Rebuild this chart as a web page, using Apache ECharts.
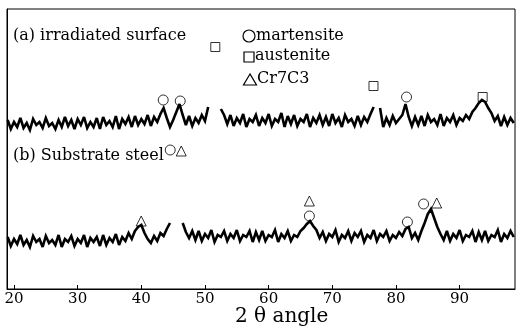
<!DOCTYPE html>
<html>
<head>
<meta charset="utf-8">
<script src="https://cdn.jsdelivr.net/npm/echarts@6/dist/echarts.min.js"></script>
<style>
  html, body { margin: 0; padding: 0; background: #fff; }
  #chart { width: 516px; height: 335px; }
</style>
</head>
<body>
<div id="chart"></div>
<script>
// 2θ sampling: 19.0 .. 98.5 deg, 0.5 deg step
const angleStart = 19;
const angleStep = 0.5;

// (a) irradiated surface, intensity (arbitrary units), null = peak off-scale
const irradiated = [
  169, 160, 167, 162, 171, 161, 166, 159, 170, 164,
  167, 161, 171, 163, 166, 160, 169, 162, 172, 163,
  169, 160, 170, 164, 172, 161, 167, 162, 171, 160,
  172, 164, 168, 162, 173, 160, 170, 165, 172, 162,
  173, 164, 170, 165, 174, 163, 172, 167, 175, 181,
  171, 162, 169, 177, 185, 174, 164, 173, 163, 171,
  166, 174, 168, 182, null, null, null, 180, 174, 165,
  174, 163, 171, 166, 175, 162, 170, 167, 174, 163,
  171, 166, 175, 163, 170, 167, 176, 162, 173, 165,
  174, 163, 170, 167, 175, 162, 171, 166, 174, 164,
  172, 163, 175, 166, 171, 162, 174, 167, 170, 163,
  173, 164, 172, 167, 175, 182, null, 181, 162, 171,
  164, 173, 166, 170, 174, 185, 172, 163, 172, 164,
  173, 163, 174, 167, 170, 164, 175, 163, 171, 167,
  174, 164, 171, 168, 174, 170, 177, 181, 186, 189,
  187, 181, 176, 168, 173, 163, 172, 164, 171, 166
];

// (b) substrate steel
const substrate = [
  52, 43, 50, 45, 54, 44, 49, 42, 53, 47,
  50, 42, 53, 46, 49, 44, 54, 42, 50, 47,
  53, 43, 50, 46, 54, 42, 51, 47, 52, 43,
  54, 44, 51, 47, 55, 44, 52, 48, 56, 50,
  58, 62, 64, 56, 50, 46, 53, 48, 56, 53,
  60, 66, null, null, null, 66, 57, 51, 58, 49,
  58, 48, 55, 51, 59, 47, 54, 52, 58, 48,
  55, 51, 59, 48, 54, 52, 58, 47, 57, 49,
  58, 48, 54, 52, 59, 47, 55, 51, 58, 48,
  54, 52, 58, 61, 65, 68, 63, 59, 51, 57,
  48, 55, 52, 59, 47, 54, 51, 58, 48, 56,
  52, 58, 47, 54, 51, 59, 48, 55, 52, 58,
  48, 54, 51, 57, 53, 60, 62, 51, 56, 49,
  58, 66, 75, 80, 71, 62, 55, 49, 58, 48,
  55, 51, 59, 48, 54, 52, 58, 47, 57, 49,
  58, 48, 54, 52, 59, 47, 55, 51, 58, 52
];

// phase markers [2θ, level]
const martensiteMarks = [[43.44, 189], [46.11, 188], [81.66, 192], [44.54, 139], [66.4, 73], [81.8, 67], [84.34, 85]];
const austeniteMarks = [[51.62, 242], [76.47, 203], [93.62, 192]];
const carbideMarks = [[46.27, 138], [39.98, 68], [66.4, 88], [86.4, 86]];

const tickValues = [20, 30, 40, 50, 60, 70, 80, 90];

const SERIF = '"DejaVu Serif", "Liberation Serif", serif';

function toPairs(values) {
  return values.map((v, i) => [angleStart + i * angleStep, v]);
}

function markerSeries(data, symbol, size) {
  return {
    type: 'scatter',
    data: data,
    symbol: symbol,
    symbolSize: size,
    itemStyle: { color: 'rgba(0,0,0,0)', borderColor: '#000', borderWidth: 1 },
    z: 3,
    silent: true
  };
}

const chart = echarts.init(document.getElementById('chart'), null, { renderer: 'canvas' });

chart.setOption({
  backgroundColor: '#fff',
  animation: false,
  grid: {
    left: 7, right: 1, top: 9, bottom: 46,
    show: true, borderColor: '#000', borderWidth: 1, backgroundColor: 'transparent'
  },
  xAxis: {
    type: 'value',
    min: 18.9,
    max: 98.7,
    axisLine: { show: true, lineStyle: { color: '#000', width: 1 } },
    axisTick: { show: true, inside: true, length: 4, customValues: tickValues, lineStyle: { color: '#000' } },
    axisLabel: {
      customValues: tickValues,
      color: '#000',
      fontFamily: SERIF,
      fontSize: 15,
      margin: 3
    },
    splitLine: { show: false }
  },
  yAxis: {
    type: 'value',
    min: 0,
    max: 280,
    axisLine: { show: true, lineStyle: { color: '#000', width: 1 } },
    axisTick: { show: false },
    axisLabel: { show: false },
    splitLine: { show: false }
  },
  series: [
    {
      type: 'line',
      data: toPairs(irradiated),
      symbol: 'none',
      connectNulls: false,
      lineStyle: { color: '#000', width: 2.6, join: 'miter', miterLimit: 3 }
    },
    {
      type: 'line',
      data: toPairs(substrate),
      symbol: 'none',
      connectNulls: false,
      lineStyle: { color: '#000', width: 2.6, join: 'miter', miterLimit: 3 }
    },
    markerSeries(martensiteMarks, 'circle', 10),
    markerSeries(austeniteMarks, 'rect', 9),
    markerSeries(carbideMarks, 'triangle', 10)
  ],
  graphic: [
    { type: 'text', left: 13, top: 28, style: { text: '(a) irradiated surface', font: '16px ' + SERIF, fill: '#000' } },
    { type: 'text', left: 13, top: 148, style: { text: '(b) Substrate steel', font: '16px ' + SERIF, fill: '#000' } },
    { type: 'circle', shape: { cx: 249, cy: 36, r: 6 }, style: { fill: 'none', stroke: '#000', lineWidth: 1.2 } },
    { type: 'rect', shape: { x: 244, y: 52, width: 10, height: 10 }, style: { fill: 'none', stroke: '#000', lineWidth: 1.2 } },
    { type: 'polygon', shape: { points: [[250, 74], [243.5, 85], [256.5, 85]] }, style: { fill: 'none', stroke: '#000', lineWidth: 1.2 } },
    { type: 'text', left: 256, top: 28, style: { text: 'martensite', font: '16px ' + SERIF, fill: '#000' } },
    { type: 'text', left: 255, top: 48, style: { text: 'austenite', font: '16px ' + SERIF, fill: '#000' } },
    { type: 'text', left: 257, top: 71, style: { text: 'Cr7C3', font: '16px ' + SERIF, fill: '#000' } },
    { type: 'text', left: 235, top: 307, style: { text: '2 θ angle', font: '20px ' + SERIF, fill: '#000' } }
  ]
});
</script>
</body>
</html>
